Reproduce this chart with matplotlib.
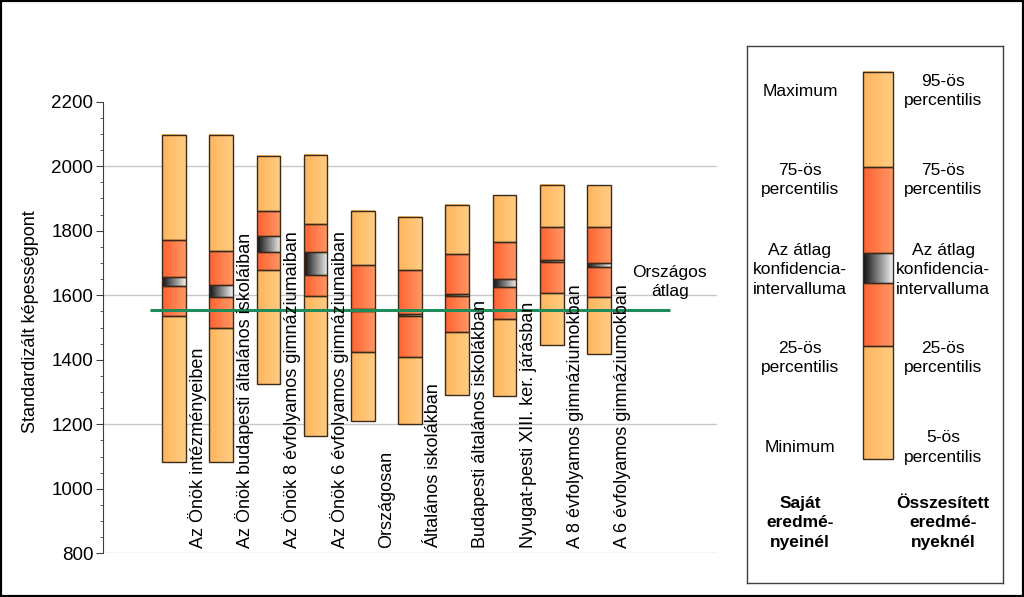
import matplotlib
matplotlib.use('Agg')
import matplotlib.pyplot as plt
import numpy as np
from matplotlib.colors import LinearSegmentedColormap
from matplotlib.patches import Rectangle
from matplotlib.ticker import MultipleLocator

plt.rcParams['font.family'] = ['Liberation Sans', 'DejaVu Sans']
plt.rcParams['font.size'] = 12.5

# adatok
kategoriak = ['Az Önök intézményeiben',
              'Az Önök budapesti általános iskoláiban',
              'Az Önök 8 évfolyamos gimnáziumaiban',
              'Az Önök 6 évfolyamos gimnáziumaiban',
              'Országosan',
              'Általános iskolákban',
              'Budapesti általános iskolákban',
              'Nyugat-pesti XIII. ker. járásban',
              'A 8 évfolyamos gimnáziumokban',
              'A 6 évfolyamos gimnáziumokban']
minimum = [1082, 1082, 1325, 1165, 1210, 1200, 1291, 1288, 1446, 1419]
p25 = [1536, 1499, 1679, 1599, 1423, 1408, 1485, 1527, 1606, 1594]
ci_also = [1630, 1594, 1734, 1662, 1552, 1535, 1598, 1625, 1702, 1689]
ci_felso = [1656, 1631, 1783, 1734, 1557, 1541, 1604, 1650, 1709, 1699]
p75 = [1771, 1737, 1861, 1820, 1694, 1677, 1728, 1765, 1811, 1811]
maximum = [2098, 2098, 2033, 2034, 1862, 1842, 1880, 1910, 1943, 1941]
orszagos_atlag = 1554
racs = [800, 1200, 1600, 2000]

VILAGOS = ('#ffb55c', '#ffcd84')
PIROS = ('#ff6230', '#ff9865')
CI = ('#101010', '#f0f0f0')
EL = '#3b2a1a'
ZOLD = '#1f8a5a'


def szakasz(ax, x, lo, hi, w, szinek):
    cmap = LinearSegmentedColormap.from_list('g', list(szinek))
    grad = np.linspace(0, 1, 64).reshape(1, -1)
    ax.imshow(grad, cmap=cmap, extent=(x - w / 2, x + w / 2, lo, hi),
              aspect='auto', interpolation='bilinear', zorder=2)
    ax.bar(x, hi - lo, w, bottom=lo, facecolor='none', edgecolor=EL,
           lw=1, zorder=3)


def oszlop(ax, x, w, hatarok):
    mn, q1, cl, ch, q3, mx = hatarok
    szakasz(ax, x, mn, q1, w, VILAGOS)
    szakasz(ax, x, q1, cl, w, PIROS)
    szakasz(ax, x, cl, ch, w, CI)
    szakasz(ax, x, ch, q3, w, PIROS)
    szakasz(ax, x, q3, mx, w, VILAGOS)


fig = plt.figure(figsize=(10.24, 5.97), dpi=100)
ax = fig.add_axes([0.1006, 0.0732, 0.5996, 0.7564])

for i in range(len(kategoriak)):
    oszlop(ax, i, 0.5, (minimum[i], p25[i], ci_also[i], ci_felso[i], p75[i], maximum[i]))
    ax.text(i + 0.5, 815, kategoriak[i], rotation=90, fontsize=13,
            ha='center', va='bottom', zorder=5)

for r in racs:
    ax.axhline(r, color='#c8c8c8', lw=1, zorder=1)

ax.hlines(orszagos_atlag, -0.5, 10.5, color=ZOLD, lw=2.2, zorder=4)
ax.text(10.5, 1642, 'Országos\nátlag', ha='center', va='center',
        linespacing=1.3)

ax.set_xlim(-1.5, 11.5)
ax.set_ylim(800, 2200)
ax.set_yticks(range(800, 2201, 200))
ax.yaxis.set_minor_locator(MultipleLocator(50))
ax.set_xticks([])
ax.tick_params(axis='y', which='major', length=5, color='#404040', pad=2,
               labelsize=13.5)
ax.tick_params(axis='y', which='minor', length=2.5, color='#404040')
for s in ['top', 'right', 'bottom']:
    ax.spines[s].set_visible(False)
ax.spines['left'].set_color('#404040')
ax.set_ylabel('Standardizált képességpont', fontsize=13)
ax.yaxis.set_label_coords(-0.104, 0.513)

# jelmagyarázat
lg = fig.add_axes([0.7295, 0.0235, 0.25, 0.8995])
lg.set_xlim(0, 1)
lg.set_ylim(0, 1)
lg.set_xticks([])
lg.set_yticks([])
for s in lg.spines.values():
    s.set_color('#404040')
    s.set_linewidth(1)
oszlop(lg, 0.512, 0.117, (0.230, 0.442, 0.558, 0.614, 0.774, 0.952))

bal = ['Maximum', '75-ös\npercentilis', 'Az átlag\nkonfidencia-\nintervalluma',
       '25-ös\npercentilis', 'Minimum']
jobb = ['95-ös\npercentilis', '75-ös\npercentilis', 'Az átlag\nkonfidencia-\nintervalluma',
        '25-ös\npercentilis', '5-ös\npercentilis']
szint = [0.916, 0.750, 0.583, 0.419, 0.252]
for t, y in zip(bal, szint):
    lg.text(0.207, y, t, ha='center', va='center', linespacing=1.38)
for t, y in zip(jobb, szint):
    lg.text(0.766, y, t, ha='center', va='center', linespacing=1.38)
lg.text(0.207, 0.112, 'Saját\neredmé-\nnyeinél', ha='center', va='center',
        fontweight='bold', linespacing=1.38)
lg.text(0.766, 0.112, 'Összesített\neredmé-\nnyeknél', ha='center', va='center',
        fontweight='bold', linespacing=1.38)

fig.patches.append(Rectangle((0, 0), 1, 1, transform=fig.transFigure,
                             fill=False, lw=3, ec='black'))

fig.savefig('out.png', dpi=100)
